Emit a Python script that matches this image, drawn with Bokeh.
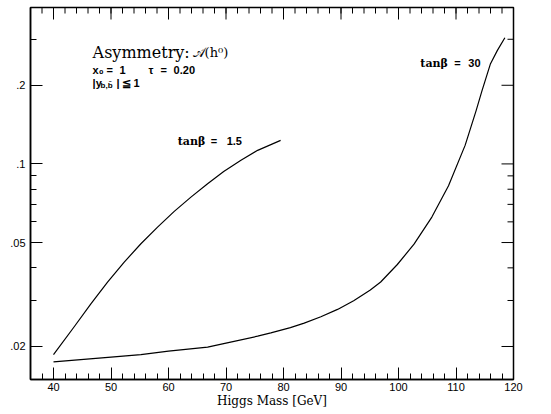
import math
from bokeh.plotting import figure
from bokeh.models import FixedTicker, Label
from bokeh.embed import file_html
from bokeh.resources import INLINE

# ---- data ----
mass_tb15 = [40, 43.6, 46.5, 49.4, 52.3, 55.2, 58.1, 61.0, 63.9, 66.8, 69.6, 72.6, 75.5, 79.5]
asym_tb15 = [0.0186, 0.0238, 0.02914, 0.03527, 0.04207, 0.04948, 0.05728, 0.0658,
             0.0746, 0.0840, 0.0935, 0.1032, 0.1127, 0.123]

mass_tb30 = [40, 50, 55.2, 60, 66.8, 70, 75.5, 77.8, 81.2, 83.6, 86.5, 89.4, 92.2,
             95.1, 96.9, 99.8, 102.7, 105.8, 108.7, 111.6, 113.5, 114.5, 116.0, 117.2, 118.5]
asym_tb30 = [0.01747, 0.0182, 0.0186, 0.0192, 0.0199, 0.0206, 0.0219, 0.02254, 0.02363,
             0.02458, 0.02598, 0.02773, 0.02993, 0.03291, 0.03531, 0.0412, 0.0493, 0.0626,
             0.0825, 0.118, 0.16, 0.19, 0.242, 0.272, 0.304]

x_lo, x_hi = 36, 120
y_lo, y_hi = 0.01495, 0.397
x_major = [40, 50, 60, 70, 80, 90, 100, 110, 120]
x_minor = list(range(36, 121, 2))
y_major = [0.02, 0.05, 0.1, 0.2]
y_minor = [0.03, 0.04, 0.06, 0.07, 0.08, 0.09, 0.3]
y_labels = {0.02: ".02", 0.05: ".05", 0.1: ".1", 0.2: ".2"}

p = figure(width=551, height=414, x_range=(x_lo, x_hi), y_range=(y_lo, y_hi),
           y_axis_type="log", output_backend="svg", toolbar_location=None,
           min_border_left=30, min_border_right=38, min_border_top=7,
           min_border_bottom=35)
p.xgrid.grid_line_color = None
p.ygrid.grid_line_color = None
p.outline_line_color = "black"
p.outline_line_width = 1.5
p.background_fill_color = "white"
p.border_fill_color = "white"

xt = FixedTicker(ticks=x_major, minor_ticks=x_minor)
yt = FixedTicker(ticks=y_major, minor_ticks=y_minor)

def style(ax):
    ax.axis_line_color = "black"
    ax.axis_line_width = 1.5
    ax.major_tick_in = 12
    ax.major_tick_out = 0
    ax.minor_tick_in = 6
    ax.minor_tick_out = 0
    ax.major_tick_line_color = "black"
    ax.minor_tick_line_color = "black"
    ax.major_tick_line_width = 1
    ax.minor_tick_line_width = 1
    ax.major_label_text_font = "Liberation Sans"
    ax.major_label_text_font_size = "11px"
    ax.major_label_text_color = "black"

xa = p.xaxis[0]
xa.ticker = xt
style(xa)
xa.major_label_standoff = 3
xa.axis_label = "Higgs Mass [GeV]"
xa.axis_label_text_font = "DejaVu Serif"
xa.axis_label_text_font_style = "normal"
xa.axis_label_text_font_size = "12px"
xa.axis_label_text_color = "black"
xa.axis_label_standoff = 0

ya = p.yaxis[0]
ya.ticker = yt
style(ya)
ya.major_label_standoff = 5
ya.major_label_overrides = y_labels

# inward ticks on the top and right frame edges
p.ray(x=x_major, y=[y_hi] * len(x_major), length=12, length_units="screen",
      angle=-math.pi / 2, line_color="black", line_width=1)
p.ray(x=x_minor, y=[y_hi] * len(x_minor), length=6, length_units="screen",
      angle=-math.pi / 2, line_color="black", line_width=1)
p.ray(x=[x_hi] * len(y_major), y=y_major, length=12, length_units="screen",
      angle=math.pi, line_color="black", line_width=1)
p.ray(x=[x_hi] * len(y_minor), y=y_minor, length=6, length_units="screen",
      angle=math.pi, line_color="black", line_width=1)

p.line(mass_tb15, asym_tb15, line_color="black", line_width=1.2, line_join="round")
p.line(mass_tb30, asym_tb30, line_color="black", line_width=1.2, line_join="round")

def lab(x, y, text, font="Liberation Sans", size="11px", style="bold", xo=0, yo=0):
    p.add_layout(Label(x=x, y=y, text=text, text_font=font, text_font_size=size,
                       text_font_style=style, text_color="black",
                       text_baseline="alphabetic", x_offset=xo, y_offset=yo))

# title block
lab(46.8, 0.2676, "Asymmetry:", font="DejaVu Serif", size="16px", style="normal")
lab(46.8, 0.2676, "\U0001D49C(h\u2070)", font="DejaVu Serif", size="13px", style="normal", xo=100)
# x0 = 1   tau = 0.20
for t, o in [("x\u2080", 0), ("=", 14), ("1", 27), ("\u03c4", 56), ("=", 68), ("0.20", 81)]:
    lab(46.8, 0.2284, t, xo=o)
# |y_{b,bbar}| <= 1
lab(46.8, 0.2035, "|y", xo=0)
lab(46.8, 0.2035, "b,b\u0304", size="8px", xo=8, yo=-2)
lab(46.8, 0.2035, "|", xo=24)
lab(46.8, 0.2035, "\u2266", xo=29)
lab(46.8, 0.2035, "1", xo=41)
# curve labels
lab(61.6, 0.122, "tan\u03b2", font="DejaVu Serif", size="11px")
for t, o in [("=", 33), ("1.5", 49)]:
    lab(61.6, 0.122, t, xo=o)
lab(103.8, 0.2428, "tan\u03b2", font="DejaVu Serif", size="11px")
for t, o in [("=", 34), ("30", 48)]:
    lab(103.8, 0.2428, t, xo=o)

open("out.html", "w").write(file_html(p, INLINE))
